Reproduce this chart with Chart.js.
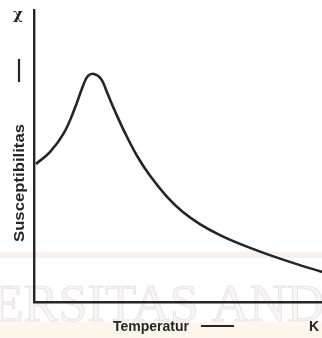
<!DOCTYPE html>
<html>
<head>
<meta charset="utf-8">
<script src="https://cdn.jsdelivr.net/npm/chart.js@4/dist/chart.umd.min.js"></script>
<style>
  html, body { margin: 0; padding: 0; background: #ffffff; }
  #wrap { width: 322px; height: 338px; }
</style>
</head>
<body>
<div id="wrap"><canvas id="c" width="322" height="338"></canvas></div>
<script>
// Temperature (arbitrary units) and magnetic susceptibility χ (arbitrary units)
const temperatur = [0.7, 5.6, 10.4, 14.2, 17.0, 18.75, 20.8, 23.3, 25.3, 28.1, 31.6, 35.8, 40.3, 46.2, 51.7, 57.6, 64.6, 71.5, 80.9, 89.9, 100];
const susceptibilitas = [47.3, 51.4, 57.9, 66.4, 74.0, 77.4, 78.1, 76.4, 71.9, 65.4, 57.9, 50.0, 43.2, 36.0, 30.8, 26.7, 22.9, 19.9, 16.4, 13.4, 10.3];

// Axis captions
const yTitle = 'Susceptibilitas';
const yTopSymbol = 'χ';
const xTitle = 'Temperatur';
const xUnit = 'K';
const watermark = 'ERSITAS AND';

const points = temperatur.map((t, i) => ({ x: t, y: susceptibilitas[i] }));

const ink = '#262424';

const paperPlugin = {
  id: 'paper',
  beforeDraw(chart) {
    const ctx = chart.ctx;
    ctx.save();
    ctx.fillStyle = '#ffffff';
    ctx.fillRect(0, 0, chart.width, chart.height);
    // faint warm bands of the printed page
    ctx.fillStyle = 'rgba(232, 205, 195, 0.30)';
    ctx.fillRect(0, 252, chart.width, 6);
    ctx.fillStyle = 'rgba(245, 228, 200, 0.35)';
    ctx.fillRect(0, 322, chart.width, 16);
    // faded watermark lettering
    ctx.font = '52px "Liberation Serif", serif';
    ctx.textBaseline = 'alphabetic';
    ctx.fillStyle = 'rgba(215, 200, 196, 0.18)';
    ctx.strokeStyle = 'rgba(175, 155, 155, 0.24)';
    ctx.lineWidth = 1;
    ctx.fillText(watermark, -8, 321);
    ctx.strokeText(watermark, -8, 321);
    ctx.restore();
  }
};

const captionPlugin = {
  id: 'captions',
  afterDraw(chart) {
    const ctx = chart.ctx;
    ctx.save();
    ctx.fillStyle = ink;
    ctx.strokeStyle = ink;

    // χ at the top of the vertical axis
    ctx.font = 'bold 15px "DejaVu Serif", serif';
    ctx.textAlign = 'center';
    ctx.textBaseline = 'middle';
    ctx.fillText(yTopSymbol, 18, 15);

    // vertical axis caption, rotated
    ctx.save();
    ctx.translate(20, 183);
    ctx.rotate(-Math.PI / 2);
    ctx.font = 'bold 14px "Liberation Sans", Arial, sans-serif';
    const w = ctx.measureText(yTitle).width;
    ctx.scale(118 / w, 1);
    ctx.textAlign = 'center';
    ctx.textBaseline = 'middle';
    ctx.fillText(yTitle, 0, 0);
    ctx.restore();
    // dash after the vertical caption
    ctx.lineWidth = 2.2;
    ctx.beginPath();
    ctx.moveTo(19, 82);
    ctx.lineTo(19, 59);
    ctx.stroke();

    // horizontal axis caption
    ctx.font = 'bold 14px "Liberation Sans", Arial, sans-serif';
    ctx.textAlign = 'left';
    ctx.textBaseline = 'middle';
    ctx.fillText(xTitle, 113, 327);
    ctx.lineWidth = 2;
    ctx.beginPath();
    ctx.moveTo(201, 326);
    ctx.lineTo(234, 326);
    ctx.stroke();
    ctx.fillText(xUnit, 309, 327);

    ctx.restore();
  }
};

new Chart(document.getElementById('c'), {
  type: 'line',
  data: {
    datasets: [{
      data: points,
      borderColor: ink,
      borderWidth: 2.6,
      pointRadius: 0,
      fill: false,
      tension: 0.4
    }]
  },
  options: {
    responsive: false,
    animation: false,
    devicePixelRatio: 1,
    layout: { padding: { left: 34, top: 10, right: 0, bottom: 36 } },
    plugins: {
      legend: { display: false },
      tooltip: { enabled: false }
    },
    scales: {
      x: {
        type: 'linear',
        min: 0,
        max: 100,
        grid: { display: false, drawTicks: false },
        ticks: { display: false },
        border: { display: true, color: ink, width: 2.4 }
      },
      y: {
        min: 0,
        max: 100,
        grid: { display: false, drawTicks: false },
        ticks: { display: false },
        border: { display: true, color: ink, width: 2.4 }
      }
    }
  },
  plugins: [paperPlugin, captionPlugin]
});
</script>
</body>
</html>
